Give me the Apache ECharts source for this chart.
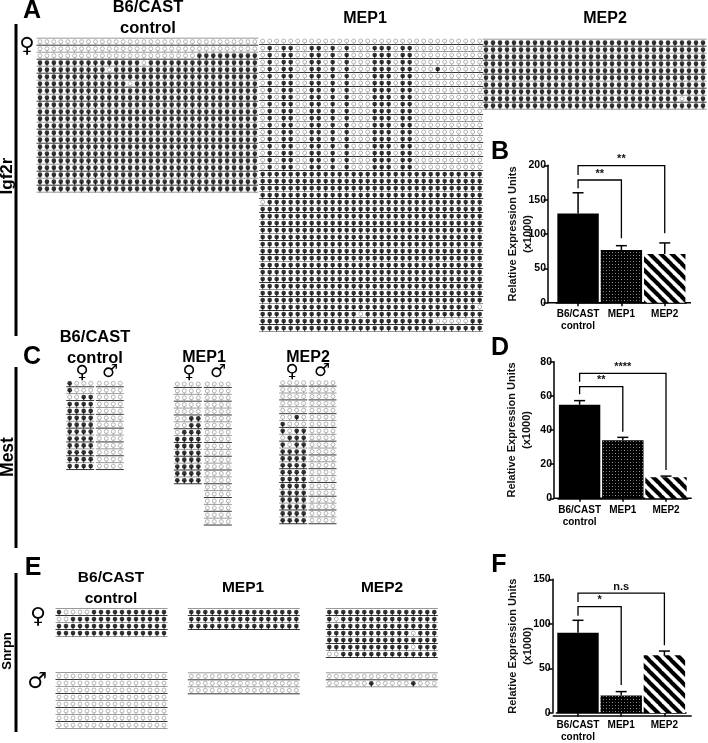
<!DOCTYPE html>
<html><head><meta charset="utf-8">
<style>html,body{margin:0;padding:0;background:#fff}#c{width:708px;height:743px}</style>
<script src="https://cdn.jsdelivr.net/npm/echarts@6/dist/echarts.min.js"></script>
</head><body><div id="c"></div>
<script>
// ---- DATA: methylation rows (1 = methylated, 0 = unmethylated) ----
const U32 = "00000000000000000000000000000000";
const M32 = "11111111111111111111111111111111";
const P32 = "01011001101010001110110000000000";
const igf2rControl = [U32,U32,"00000000000000000000000111111111",
 "11111111111111101111111111111111","11111111110111111111111111111111",M32,
 "11111111111110111111111111111111",M32,M32,M32,M32,M32,M32,M32,M32,M32,M32,M32,M32,M32,M32,M32];
const igf2rMep1 = [U32,P32,P32,P32,"01011001101010001110110001000000",P32,P32,P32,P32,P32,P32,P32,P32,P32,P32,P32,P32,P32,P32,
 M32,M32,M32,M32,"01111111111111111111111111111111",M32,M32,M32,M32,M32,M32,M32,M32,M32,M32,M32,M32,M32,M32,
 "11111111111111111111111111111110","11111111111111011111111111111111","11111111111111111111111110000011",M32];
const igf2rMep2 = [M32,M32,M32,M32,M32,M32,M32,M32,"11111111111111111111111111110111",M32];
const mestCtrlF = ["1000","1000","0011","1111","1111","1111","1111","1111","1111","1111","1111","1111","1111"];
const mestCtrlM = ["0000","0000","0000","0000","0000","0000","0000","0000","0000","0000","0000","0000","0000"];
const mestMep1F = ["0000","0000","0000","0000","0000","0011","0011","0111","1111","1111","1111","1111","1111","1111","1111"];
const mestMep1M = ["0000","0000","0000","0000","0000","0000","0000","0000","0000","0000","0000","0000","0000","0000","0000","0000","0000","0000","0000","0000","0000"];
const mestMep2F = ["0000","0000","0000","0000","0000","0010","1000","1011","0111","1011","1111","1111","1111","1111","1111","1111","1111","1111","1111","1111","1111"];
const mestMep2M = ["0000","0000","0000","0000","0000","0000","0000","0000","0000","0000","0000","0000","0000","0000","0000","0000","0000","0000","0000","0000","0000"];
const U16 = "0000000000000000", M16 = "1111111111111111";
const snrpnCtrlF = ["1000011111111111","0011111111111111",M16,M16];
const snrpnCtrlM = [U16,U16,U16,U16,U16,U16,U16,U16];
const snrpnMep1F = [M16,M16,M16];
const snrpnMep1M = [U16,U16,U16];
const snrpnMep2F = [M16,"1011111111111111",M16,"1111111111110111",M16,"1111111111110111","0011111111111111"];
const snrpnMep2M = [U16,"0000001000001000"];

// ---- DATA: bar charts ----
const barCategories = ["B6/CAST\ncontrol","MEP1","MEP2"];
const igf2rExpr = [130,76.7,71],   igf2rErrTop = [160,83,87];
const mestExpr  = [54.8,34,12.3],  mestErrTop  = [57.2,35.7,13];
const snrpnExpr = [90,19.5,64.7],  snrpnErrTop = [104,24,69.5];
// bracket: fromCat, toCat, startValue, topValue, endValue, label
const igf2rBrackets = [[0,1,166.5,178.6,93.7,"**"],[0,2,186,199.5,101,"**"]];
const mestBrackets  = [[0,1,60.9,65.4,39,"**"],[0,2,68.3,73.2,16.6,"****"]];
const snrpnBrackets = [[0,1,109,119.3,31.5,"*"],[0,2,124.4,134.6,76,"n.s"]];
const yTitle = "Relative Expression Units\n(x1000)";

// ---- layout ----
const FONT = '"Liberation Sans", Arial, sans-serif';
const panels = [
 {rows:igf2rControl,x:40,y:41.7,sx:6.93,sy:7,top:true},
 {rows:igf2rMep1,x:262.7,y:41,sx:7,sy:7,top:false},
 {rows:igf2rMep2,x:486,y:42.7,sx:7,sy:7,top:true},
 {rows:mestCtrlF,x:69.7,y:383.3,sx:7,sy:6.9,top:false},
 {rows:mestCtrlM,x:99.3,y:383.3,sx:7,sy:6.9,top:false},
 {rows:mestMep1F,x:177.3,y:384,sx:7,sy:6.88,top:false},
 {rows:mestMep1M,x:207.3,y:384,sx:7,sy:6.88,top:false},
 {rows:mestMep2F,x:282.7,y:382.7,sx:7,sy:6.88,top:false},
 {rows:mestMep2M,x:312,y:382.7,sx:7,sy:6.88,top:false},
 {rows:snrpnCtrlF,x:59,y:612,sx:7,sy:7,top:true},
 {rows:snrpnCtrlM,x:59,y:676,sx:7,sy:7,top:true},
 {rows:snrpnMep1F,x:191.3,y:612,sx:7,sy:7,top:true},
 {rows:snrpnMep1M,x:191.3,y:676.3,sx:7,sy:7,top:true},
 {rows:snrpnMep2F,x:329.3,y:612,sx:7,sy:7,top:true},
 {rows:snrpnMep2M,x:329.3,y:676.3,sx:7,sy:7,top:true}
];
const bars = [
 {v:igf2rExpr,e:igf2rErrTop,b:igf2rBrackets,max:200,step:50,left:556.4,right:686.4,top:165.3,bottom:302.7,axisX:548,axisEnd:691,nameGap:12.5},
 {v:mestExpr,e:mestErrTop,b:mestBrackets,max:80,step:20,left:558,right:687.6,top:361.7,bottom:498.3,axisX:554,axisEnd:691.7,nameGap:20},
 {v:snrpnExpr,e:snrpnErrTop,b:snrpnBrackets,max:150,step:50,left:556.4,right:686,top:579.3,bottom:716,axisX:552.7,axisEnd:691.7,nameGap:17}
];

// ---- patterns ----
function dotTile(){
  const c=document.createElement('canvas');c.width=6;c.height=6;const g=c.getContext('2d');
  g.fillStyle='#000';g.fillRect(0,0,6,6);g.fillStyle='#999';
  g.fillRect(0,0,1,1);g.fillRect(3,3,1,1);g.fillStyle='#555';g.fillRect(3,0,1,1);g.fillRect(0,3,1,1);
  return c;
}
function stripeTile(){
  const s=11,c=document.createElement('canvas');c.width=s;c.height=s;const g=c.getContext('2d');
  g.fillStyle='#fff';g.fillRect(0,0,s,s);g.strokeStyle='#000';g.lineWidth=4.1;
  [-s,0,s].forEach(o=>{g.beginPath();g.moveTo(o-1,-1);g.lineTo(o+s+1,s+1);g.stroke();});
  return c;
}
const barFills=['#000',{image:dotTile(),repeat:'repeat'},{image:stripeTile(),repeat:'repeat'}];

const grid=[],xAxis=[],yAxis=[],series=[];
panels.forEach(p=>{
  const gi=grid.length,cols=p.rows[0].length,n=p.rows.length;
  grid.push({left:p.x-p.sx/2,top:p.y-p.sy/2,width:cols*p.sx,height:n*p.sy});
  xAxis.push({gridIndex:gi,type:'value',min:0,max:cols,show:false});
  yAxis.push({gridIndex:gi,type:'value',min:0,max:n,inverse:true,show:false});
  const lineRows=[];for(let i=p.top?0:1;i<=n;i++)lineRows.push([0,i]);
  series.push({type:'custom',xAxisIndex:gi,yAxisIndex:gi,silent:true,clip:false,data:lineRows,
    renderItem:(params,api)=>{
      const r=api.value(1),a=api.coord([0,r]),b=api.coord([cols,r]);
      return {type:'line',shape:{x1:a[0],y1:a[1],x2:b[0],y2:b[1]},
        style:{stroke:r%2?'#333':'#999',lineWidth:1}};
    }});
  const mm=[],uu=[];
  p.rows.forEach((s,r)=>{for(let c=0;c<cols;c++)(s[c]==='1'?mm:uu).push([c+.5,r+.5]);});
  const base={type:'scatter',xAxisIndex:gi,yAxisIndex:gi,silent:true,clip:false};
  series.push(Object.assign({},base,{data:uu,symbol:'rect',symbolSize:[0.8,3],symbolOffset:[0,2],itemStyle:{color:'#888'}}));
  series.push(Object.assign({},base,{data:mm,symbol:'rect',symbolSize:[1,3],symbolOffset:[0,2],itemStyle:{color:'#111'}}));
  series.push(Object.assign({},base,{data:uu,symbol:'circle',symbolSize:4,itemStyle:{color:'#fff',borderColor:'#999',borderWidth:0.9}}));
  series.push(Object.assign({},base,{data:mm,symbol:'circle',symbolSize:4.7,itemStyle:{color:'#000'}}));
});
const black={lineStyle:{color:'#000',width:1.5}};
bars.forEach(b=>{
  const gi=grid.length;
  grid.push({left:b.left,top:b.top,width:b.right-b.left,height:b.bottom-b.top});
  xAxis.push({gridIndex:gi,type:'category',data:barCategories,
    axisLine:{show:true,...black},
    axisTick:{show:true,alignWithLabel:true,length:3.5,...black},
    axisLabel:{interval:0,color:'#000',fontWeight:'bold',fontSize:10,fontFamily:FONT,lineHeight:12,margin:6}});
  yAxis.push({gridIndex:gi,type:'value',min:0,max:b.max,interval:b.step,offset:b.left-b.axisX,
    splitLine:{show:false},axisLine:{show:true,...black},
    axisTick:{show:true,length:4.5,...black},
    axisLabel:{color:'#000',fontWeight:'bold',fontSize:10.5,fontFamily:FONT,margin:2},
    name:yTitle,nameLocation:'middle',nameRotate:90,nameGap:b.nameGap,nameMoveOverlap:false,
    nameTextStyle:{color:'#111',fontWeight:'bold',fontSize:11,fontFamily:FONT,lineHeight:15}});
  series.push({type:'bar',xAxisIndex:gi,yAxisIndex:gi,barWidth:41.4,silent:true,
    data:b.v.map((v,i)=>({value:v,itemStyle:{color:barFills[i]}}))});
  series.push({type:'custom',xAxisIndex:gi,yAxisIndex:gi,silent:true,clip:false,z:1,
    data:b.e.map((e,i)=>[i,b.v[i],e]),
    renderItem:(params,api)=>{
      const a=api.coord([api.value(0),api.value(1)]),t=api.coord([api.value(0),api.value(2)]);
      const st={stroke:'#000',lineWidth:1.5,fill:null};
      return {type:'group',children:[
        {type:'line',shape:{x1:a[0],y1:a[1],x2:t[0],y2:t[1]},style:st},
        {type:'line',shape:{x1:t[0]-5.5,y1:t[1],x2:t[0]+5.5,y2:t[1]},style:st}]};
    }});
  series.push({type:'custom',xAxisIndex:gi,yAxisIndex:gi,silent:true,clip:false,z:3,
    data:b.b.map(r=>r.slice(0,5)),
    renderItem:(params,api)=>{
      const f=api.value(0),t=api.value(1),s=api.coord([f,api.value(2)]),k=api.coord([f,api.value(3)]),
            m=api.coord([t,api.value(3)]),e=api.coord([t,api.value(4)]);
      return {type:'group',children:[
        {type:'polyline',shape:{points:[s,k,m,e]},style:{stroke:'#000',lineWidth:1.3,fill:null}},
        {type:'text',style:{text:b.b[params.dataIndex][5],x:(k[0]+m[0])/2,y:k[1]-1,textAlign:'center',textVerticalAlign:'bottom',
          font:'bold 11px '+FONT,fill:'#111'}}]};
    }});
});

// ---- page text and rules ----
function txt(text,x,y,size,rot,family,weight){
  return {type:'text',x:x,y:y,rotation:rot||0,silent:true,
    style:{text:text,textAlign:'center',textVerticalAlign:'middle',fill:'#000',
      font:(weight||'bold')+' '+size+'px '+(family||FONT)}};
}
const G='"DejaVu Sans"';
const graphic=[
 txt('A',32,11,25),txt('B',500,152,25),txt('C',32,357,25),txt('D',500,348,25),txt('E',33,568,25),txt('F',499,565,25),
 txt('B6/CAST',148,7,16.5),txt('control',148,28,16.5),txt('MEP1',365,19,16),txt('MEP2',605,19,16),
 txt('B6/CAST',95,337,16.5),txt('control',95,358,16.5),txt('MEP1',204,358,16),txt('MEP2',308,358,16),
 txt('B6/CAST',111,578,15.5),txt('control',111,599,15.5),txt('MEP1',243,588,15.5),txt('MEP2',382,588,15.5),
 txt('Igf2r',7,176,17,Math.PI/2),txt('Mest',8,457,17.5,Math.PI/2),txt('Snrpn',7,651,13,Math.PI/2),
 txt('♀',27,47,21,0,G,'normal'),
 txt('♀',82,373,18,0,G,'normal'),txt('♂',110,372,18,0,G,'normal'),
 txt('♀',189,373,18,0,G,'normal'),txt('♂',218,372,18,0,G,'normal'),
 txt('♀',292,372,18,0,G,'normal'),txt('♂',322,371,18,0,G,'normal'),
 txt('♀',38,617,22,0,G,'normal'),txt('♂',37,682,22,0,G,'normal')
];
[[24,336],[367,548],[573,732]].forEach(s=>graphic.push({type:'line',silent:true,shape:{x1:16,y1:s[0],x2:16,y2:s[1]},style:{stroke:'#000',lineWidth:3}}));
bars.forEach(b=>graphic.push({type:'line',silent:true,shape:{x1:b.axisX,y1:b.bottom,x2:b.axisEnd,y2:b.bottom},style:{stroke:'#000',lineWidth:1.5}}));

echarts.init(document.getElementById('c'),null,{renderer:'canvas'}).setOption({
  animation:false,backgroundColor:'#fff',grid,xAxis,yAxis,series,graphic,tooltip:{show:false}
});
</script></body></html>
